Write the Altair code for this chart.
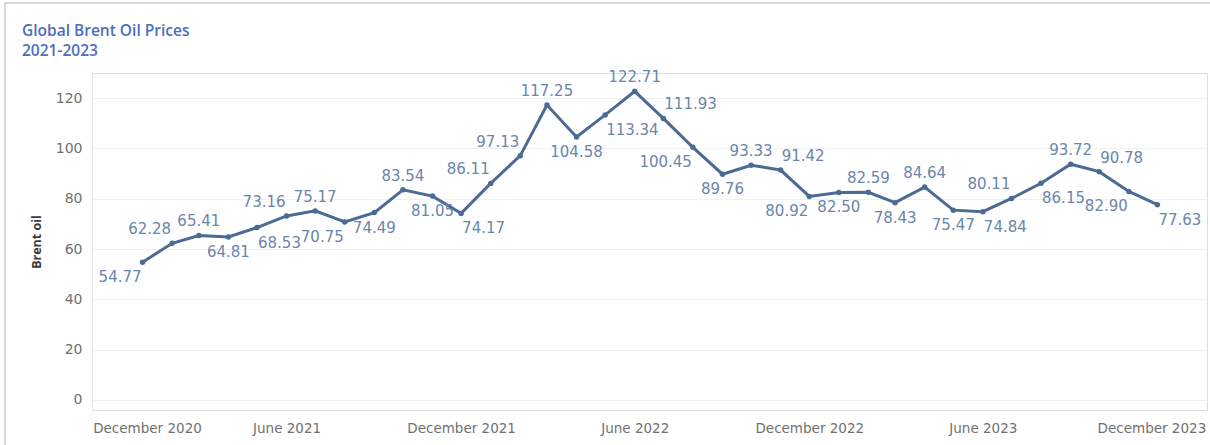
import altair as alt
import pandas as pd

# ---- data ----
months = [
    "2021/01/01", "2021/02/01", "2021/03/01", "2021/04/01", "2021/05/01", "2021/06/01",
    "2021/07/01", "2021/08/01", "2021/09/01", "2021/10/01", "2021/11/01", "2021/12/01",
    "2022/01/01", "2022/02/01", "2022/03/01", "2022/04/01", "2022/05/01", "2022/06/01",
    "2022/07/01", "2022/08/01", "2022/09/01", "2022/10/01", "2022/11/01", "2022/12/01",
    "2023/01/01", "2023/02/01", "2023/03/01", "2023/04/01", "2023/05/01", "2023/06/01",
    "2023/07/01", "2023/08/01", "2023/09/01", "2023/10/01", "2023/11/01", "2023/12/01",
]
brent = [
    54.77, 62.28, 65.41, 64.81, 68.53, 73.16, 75.17, 70.75, 74.49, 83.54, 81.05, 74.17,
    86.11, 97.13, 117.25, 104.58, 113.34, 122.71, 111.93, 100.45, 89.76, 93.33, 91.42, 80.92,
    82.50, 82.59, 78.43, 84.64, 75.47, 74.84, 80.11, 86.15, 93.72, 90.78, 82.90, 77.63,
]
# label placement as seen in the reference: A=above, B=below, L/R = left/right of the point
label_pos = [
    "BL", "AL", "A", "B", "BR", "AL", "A", "BL", "B", "A", "B", "BR",
    "AL", "AL", "A", "B", "BR", "A", "AR", "BL", "B", "A", "AR", "BL",
    "B", "A", "B", "A", "B", "BR", "AL", "BR", "A", "AR", "BL", "BR",
]
tick_months = [(2020, 12), (2021, 6), (2021, 12), (2022, 6), (2022, 12), (2023, 6), (2023, 12)]
y_ticks = [0, 20, 40, 60, 80, 100, 120]

df = pd.DataFrame({"month": months, "brent": brent, "pos": label_pos})

LINE = "#4b6b95"
LABEL = "#6a86ab"
AXIS_TXT = "#707070"

x_enc = alt.X(
    "month:T",
    scale=alt.Scale(domain=[alt.DateTime(year=2020, month=11, date=9),
                            alt.DateTime(year=2024, month=1, date=22)]),
    axis=alt.Axis(
        title=None,
        values=[alt.DateTime(year=y, month=m, date=1) for y, m in tick_months],
        format="%B %Y",
        grid=False, ticks=False, tickSize=0, domain=False,
        labelFont="DejaVu Sans", labelFontSize=13.5, labelColor=AXIS_TXT,
        labelPadding=11,
        labelOffset={"condition": [
            {"test": "year(datum.value) == 2020", "value": 34},
            {"test": "year(datum.value) == 2023 && month(datum.value) == 11", "value": -6},
        ], "value": 0},
    ),
)
y_enc = alt.Y(
    "brent:Q",
    scale=alt.Scale(domain=[-4, 130], nice=False, zero=False),
    axis=alt.Axis(
        title="Brent oil", values=y_ticks, format="d",
        titleFont="Open Sans", titleFontWeight="bold", titleFontSize=12.5, titleColor="#3a3a3a",
        titlePadding=12,
        labelFont="DejaVu Sans", labelFontSize=14, labelColor=AXIS_TXT, labelPadding=10,
        ticks=False, tickSize=0, domain=True, domainColor="#e4e4e4", domainWidth=1,
        grid=True, gridColor="#f0f0f0", gridWidth=1,
    ),
)

base = alt.Chart(df)

line = base.mark_line(color=LINE, strokeWidth=3).encode(x=x_enc, y=y_enc)
pts = base.mark_circle(color=LINE, size=30, opacity=1).encode(x="month:T", y="brent:Q")

offsets = {
    "A": dict(align="center", dx=0, dy=-14),
    "B": dict(align="center", dx=0, dy=15),
    "AL": dict(align="right", dx=-1, dy=-14),
    "AR": dict(align="left", dx=1, dy=-14),
    "BL": dict(align="right", dx=-1, dy=15),
    "BR": dict(align="left", dx=1, dy=15),
}
texts = []
for code, o in offsets.items():
    texts.append(
        base.transform_filter(alt.datum.pos == code)
        .mark_text(font="DejaVu Sans", fontSize=15, color=LABEL, baseline="middle", **o)
        .encode(x="month:T", y="brent:Q", text=alt.Text("brent:Q", format=".2f"))
    )

border = alt.Chart(pd.DataFrame({"a": [0]})).mark_rect(
    fill=None, stroke="#d8d8d8", strokeWidth=2, clip=False
).encode(x=alt.value(-87), x2=alt.value(1140), y=alt.value(-70), y2=alt.value(400))

chart = alt.layer(border, line, pts, *texts).properties(
    width=1115,
    height=337,
    autosize=alt.AutoSizeParams(type="none"),
    padding={"left": 92, "top": 73, "right": 3, "bottom": 35},
    title=alt.TitleParams(
        ["Global Brent Oil Prices", "2021-2023"],
        anchor="start", frame="group", dx=-70, offset=-57,
        font="Open Sans", fontSize=15.5, fontWeight=600, color="#4a6ec2", lineHeight=20,
    ),
).configure_view(stroke=None).configure(background="white")

chart.save("out.html", embed_options={"renderer": "svg", "actions": False})
